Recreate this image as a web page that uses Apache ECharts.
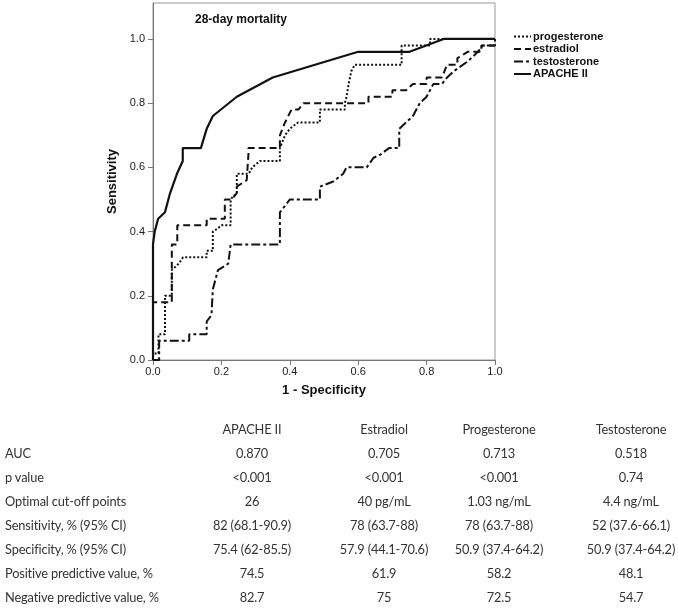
<!DOCTYPE html>
<html>
<head>
<meta charset="utf-8">
<script src="https://cdn.jsdelivr.net/npm/echarts@6/dist/echarts.min.js"></script>
<style>
  html, body { margin: 0; padding: 0; background: #fff; }
  #wrap { position: relative; width: 678px; height: 609px; overflow: hidden; }
  #chart { position: absolute; left: 0; top: 0; width: 678px; height: 609px; }
  .cell { position: absolute; font-family: Lato, "Open Sans", sans-serif; font-size: 12.8px; letter-spacing: -0.15px; color: #333; white-space: nowrap; line-height: 16px; }
</style>
</head>
<body>
<div id="wrap">
  <div id="chart"></div>
  <div id="table"></div>
</div>
<script>
// ---------- data ----------
var chartTitle = '28-day mortality';
var xAxisTitle = '1 - Specificity';
var yAxisTitle = 'Sensitivity';
var tickValues = [0, 0.2, 0.4, 0.6, 0.8, 1.0];
var seriesNames = ['progesterone', 'estradiol', 'testosterone', 'APACHE II'];

// [1 - specificity, sensitivity]
var progesteroneROC = [[0,0],[0,0.02],[0.016,0.02],[0.016,0.08],[0.035,0.08],[0.035,0.20],[0.055,0.20],[0.055,0.28],[0.065,0.29],[0.075,0.30],[0.088,0.32],[0.157,0.32],[0.157,0.34],[0.175,0.34],[0.175,0.40],[0.19,0.41],[0.20,0.42],[0.227,0.42],[0.227,0.50],[0.235,0.51],[0.245,0.52],[0.245,0.58],[0.28,0.58],[0.29,0.60],[0.313,0.62],[0.371,0.62],[0.371,0.66],[0.386,0.70],[0.40,0.72],[0.424,0.74],[0.488,0.74],[0.488,0.78],[0.561,0.78],[0.561,0.80],[0.566,0.82],[0.572,0.86],[0.58,0.90],[0.59,0.92],[0.727,0.92],[0.727,0.98],[0.81,0.98],[0.81,1.0],[1,1]];
var estradiolROC = [[0,0],[0,0.18],[0.055,0.18],[0.055,0.36],[0.071,0.36],[0.071,0.42],[0.157,0.42],[0.157,0.44],[0.21,0.44],[0.21,0.50],[0.23,0.50],[0.245,0.52],[0.245,0.54],[0.274,0.56],[0.279,0.64],[0.279,0.66],[0.371,0.66],[0.371,0.70],[0.386,0.74],[0.405,0.78],[0.425,0.78],[0.44,0.80],[0.63,0.80],[0.63,0.82],[0.70,0.82],[0.70,0.84],[0.74,0.84],[0.76,0.86],[0.80,0.86],[0.80,0.88],[0.845,0.88],[0.86,0.92],[0.89,0.92],[0.89,0.94],[0.92,0.96],[0.96,0.96],[0.96,0.98],[1.0,0.98],[1.0,1.0]];
var testosteroneROC = [[0,0],[0.018,0],[0.018,0.06],[0.106,0.06],[0.106,0.08],[0.157,0.08],[0.157,0.12],[0.171,0.14],[0.175,0.22],[0.19,0.28],[0.22,0.30],[0.227,0.36],[0.371,0.36],[0.371,0.46],[0.386,0.48],[0.40,0.50],[0.488,0.50],[0.488,0.54],[0.527,0.556],[0.556,0.58],[0.566,0.60],[0.625,0.60],[0.645,0.63],[0.665,0.64],[0.69,0.66],[0.72,0.66],[0.72,0.72],[0.74,0.74],[0.76,0.76],[0.78,0.80],[0.80,0.82],[0.82,0.86],[0.845,0.86],[0.86,0.88],[0.88,0.90],[0.92,0.93],[0.95,0.96],[0.965,0.98],[1.0,0.98],[1.0,1.0]];
var apacheROC = [[0,0],[0,0.36],[0.005,0.40],[0.015,0.44],[0.035,0.46],[0.05,0.52],[0.07,0.58],[0.087,0.62],[0.087,0.66],[0.14,0.66],[0.157,0.72],[0.175,0.76],[0.245,0.82],[0.35,0.88],[0.6,0.96],[0.75,0.96],[0.85,1.0],[1,1]];

// table
var tableColumns = ['APACHE II', 'Estradiol', 'Progesterone', 'Testosterone'];
var tableRowLabels = ['AUC', 'p value', 'Optimal cut-off points', 'Sensitivity, % (95% CI)', 'Specificity, % (95% CI)', 'Positive predictive value, %', 'Negative predictive value, %'];
var apacheValues = ['0.870', '<0.001', '26', '82 (68.1-90.9)', '75.4 (62-85.5)', '74.5', '82.7'];
var estradiolValues = ['0.705', '<0.001', '40 pg/mL', '78 (63.7-88)', '57.9 (44.1-70.6)', '61.9', '75'];
var progesteroneValues = ['0.713', '<0.001', '1.03 ng/mL', '78 (63.7-88)', '50.9 (37.4-64.2)', '58.2', '72.5'];
var testosteroneValues = ['0.518', '0.74', '4.4 ng/mL', '52 (37.6-66.1)', '50.9 (37.4-64.2)', '48.1', '54.7'];

// ---------- chart ----------
var chart = echarts.init(document.getElementById('chart'), null, { renderer: 'canvas' });
var dashStyles = [[2, 2], [7, 4], [9, 3, 3, 3], 'solid'];
var roc = [progesteroneROC, estradiolROC, testosteroneROC, apacheROC];
var axisFont = { fontFamily: 'Liberation Sans, Arial, sans-serif', fontSize: 11, color: '#222' };

chart.setOption({
  animation: false,
  backgroundColor: '#fff',
  title: {
    text: chartTitle, left: 190, top: 9,
    textStyle: { fontFamily: 'Liberation Sans, Arial, sans-serif', fontSize: 12, fontWeight: 'bold', color: '#111' }
  },
  legend: {
    orient: 'vertical', left: 508, top: 26, itemWidth: 17, itemHeight: 12, itemGap: 1.5,
    data: seriesNames,
    itemStyle: { opacity: 0, borderWidth: 0 },
    textStyle: { fontFamily: 'Liberation Sans, Arial, sans-serif', fontSize: 11, fontWeight: 'bold', color: '#111', padding: [0, 0, 0, -3] }
  },
  grid: { left: 153, right: 183, top: 3, bottom: 249, show: true, borderColor: '#999', borderWidth: 1, containLabel: false },
  xAxis: {
    type: 'value', min: 0, max: 1, interval: 0.2,
    name: xAxisTitle, nameLocation: 'middle', nameGap: 24,
    nameTextStyle: { fontFamily: 'Liberation Sans, Arial, sans-serif', fontSize: 13, fontWeight: 'bold', color: '#111' },
    axisLine: { show: true, lineStyle: { color: '#777', width: 1 } },
    axisTick: { show: true, length: 5, lineStyle: { color: '#777' } },
    axisLabel: Object.assign({ margin: 6, formatter: function (v) { return v.toFixed(1); } }, axisFont),
    splitLine: { show: false }
  },
  yAxis: {
    type: 'value', min: 0, max: 1.112,
    name: yAxisTitle, nameLocation: 'middle', nameGap: 28,
    nameTextStyle: { fontFamily: 'Liberation Sans, Arial, sans-serif', fontSize: 13, fontWeight: 'bold', color: '#111' },
    axisLine: { show: true, lineStyle: { color: '#777', width: 1 } },
    axisTick: { show: true, length: 5, customValues: tickValues, lineStyle: { color: '#777' } },
    axisLabel: Object.assign({ margin: 8, customValues: tickValues, formatter: function (v) { return v.toFixed(1); } }, axisFont),
    splitLine: { show: false }
  },
  series: seriesNames.map(function (n, i) {
    return {
      name: n, type: 'line', data: roc[i], symbol: 'none', showSymbol: false,
      lineStyle: { color: '#111', width: i === 3 ? 2.2 : 2, type: dashStyles[i] },
      itemStyle: { color: '#111' }
    };
  })
});

// ---------- table ----------
var tableEl = document.getElementById('table');
var colCenters = [252, 384, 499, 631];
var rowTop = 429, rowStep = 24;
var colValues = [apacheValues, estradiolValues, progesteroneValues, testosteroneValues];
function addCell(text, x, yc, align) {
  var d = document.createElement('div');
  d.className = 'cell';
  d.textContent = text;
  d.style.top = (yc - 8) + 'px';
  if (align === 'center') { d.style.left = (x - 100) + 'px'; d.style.width = '200px'; d.style.textAlign = 'center'; }
  else { d.style.left = x + 'px'; }
  tableEl.appendChild(d);
}
tableColumns.forEach(function (c, j) { addCell(c, colCenters[j], rowTop, 'center'); });
tableRowLabels.forEach(function (r, i) {
  var yc = rowTop + rowStep * (i + 1);
  addCell(r, 5, yc, 'left');
  colValues.forEach(function (vals, j) { addCell(vals[i], colCenters[j], yc, 'center'); });
});
</script>
</body>
</html>
